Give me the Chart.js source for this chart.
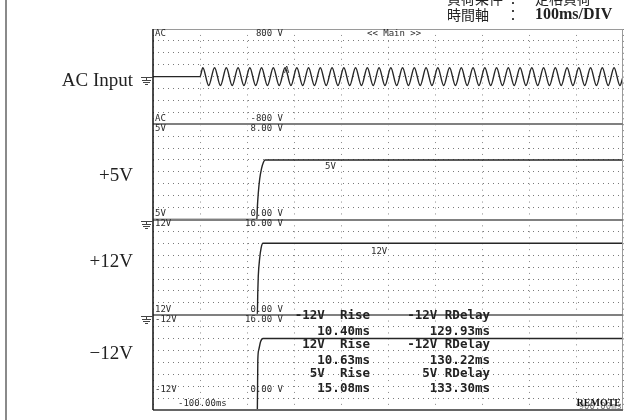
<!DOCTYPE html>
<html>
<head>
<meta charset="utf-8">
<script src="https://cdn.jsdelivr.net/npm/chart.js@4.4.1/dist/chart.umd.min.js"></script>
<style>
  body { margin: 0; background: #ffffff; }
  canvas { display: block; }
</style>
</head>
<body>
<canvas id="myChart" width="627" height="420"></canvas>
<script>
// AC input: read peak / trough positions (ms) and volts
var tempoAC = [-100, 0, 6, 18.5, 31, 43.5, 56, 68.5, 81, 93.5, 106, 118.5, 131, 143.5, 156, 168.5,
  181, 193.5, 206, 218.5, 231, 243.5, 256, 268.5, 281, 293.5, 306, 318.5, 331, 343.5, 356, 368.5,
  381, 393.5, 406, 418.5, 431, 443.5, 456, 468.5, 481, 493.5, 506, 518.5, 531, 543.5, 556, 568.5,
  581, 593.5, 606, 618.5, 631, 643.5, 656, 668.5, 681, 693.5, 706, 718.5, 731, 743.5, 756, 768.5,
  781, 793.5, 806, 818.5, 831, 843.5, 856, 868.5, 881, 893.5, 900];
var tensaoAC = [0, 0, 150, -150, 150, -150, 150, -150, 150, -150, 150, -150, 150, -150, 150, -150,
  150, -150, 150, -150, 150, -150, 150, -150, 150, -150, 150, -150, 150, -150, 150, -150,
  150, -150, 150, -150, 150, -150, 150, -150, 150, -150, 150, -150, 150, -150, 150, -150,
  150, -150, 150, -150, 150, -150, 150, -150, 150, -150, 150, -150, 150, -150, 150, -150,
  150, -150, 150, -150, 150, -150, 150, -150, 150, -150, 0];

var tempo5V = [-100, 121, 122, 124, 127, 131, 135, 138, 900];
var tensao5V = [0, 0, 1.0, 2.2, 3.4, 4.3, 4.8, 5.0, 5.0];

var tempo12V = [-100, 122, 123, 124, 127, 130, 134, 900];
var tensao12V = [0, 0, 4.0, 6.5, 9.5, 11.2, 12.0, 12.0];

var tempoN12V = [-100, 122, 123, 125, 129, 134, 900];
var tensaoN12V = [0, 0, 8.4, 10.1, 11.5, 12.0, 12.0];

var nomesCanal = ["AC", "5V", "12V", "-12V"];
var rotulosEsquerda = ["AC Input", "+5V", "+12V", "\u221212V"];
var posRotulos = [81, 176, 262, 354];
var escalaTopo = ["800 V", "8.00 V", "16.00 V", "16.00 V"];
var escalaBase = ["-800 V", "0.00 V", "0.00 V", "0.00 V"];

var medidasEsq = ["-12V  Rise", "10.40ms", "12V  Rise", "10.63ms", "5V  Rise", "15.08ms"];
var medidasDir = ["-12V RDelay", "129.93ms", "-12V RDelay", "130.22ms", "5V RDelay", "133.30ms"];
var linhasMedidas = [316, 331.5, 345, 360.5, 373.5, 388.5];

var tempoInicio = "-100.00ms";
var tempoFim = "900.00ms";

function pontos(tempos, valores) {
  var lista = [];
  for (var i = 0; i < tempos.length; i++) {
    lista.push({ x: tempos[i], y: valores[i] });
  }
  return lista;
}

function eixoY(minimo, maximo, passo) {
  return {
    type: "linear",
    min: minimo,
    max: maximo,
    stack: "osc",
    stackWeight: 1,
    ticks: { display: false, stepSize: passo },
    grid: { color: "#7a7a7a", drawTicks: false },
    border: { display: false, dash: [1, 4] },
    afterFit: function (escala) { escala.width = 0; }
  };
}

function terra(c, x, y) {
  c.strokeStyle = "#444";
  c.lineWidth = 1;
  c.beginPath();
  c.moveTo(141, y + 0.5); c.lineTo(153, y + 0.5);
  c.moveTo(x + 0.5, y); c.lineTo(x + 0.5, y + 3);
  c.moveTo(x - 4, y + 3.5); c.lineTo(x + 5, y + 3.5);
  c.moveTo(x - 3, y + 5.5); c.lineTo(x + 4, y + 5.5);
  c.moveTo(x - 1, y + 7.5); c.lineTo(x + 2, y + 7.5);
  c.stroke();
}

var desenhos = {
  id: "desenhos",
  afterDatasetsDraw: function (chart) {
    var c = chart.ctx;
    var a = chart.chartArea;
    var paineis = [chart.scales.yAC, chart.scales.y5, chart.scales.y12, chart.scales.yN12];
    c.save();
    // moldura
    c.lineWidth = 1;
    c.strokeStyle = "#9a9a9a";
    c.beginPath();
    c.moveTo(a.left, a.top + 0.5); c.lineTo(a.right, a.top + 0.5);
    c.moveTo(a.right - 0.5, a.top); c.lineTo(a.right - 0.5, a.bottom);
    c.stroke();
    c.lineWidth = 2;
    c.strokeStyle = "#666";
    c.beginPath();
    c.moveTo(a.left, a.bottom); c.lineTo(a.right, a.bottom);
    c.stroke();
    c.strokeStyle = "#808080";
    c.beginPath();
    for (var i = 1; i < paineis.length; i++) {
      var yy = Math.round(paineis[i].top);
      c.moveTo(a.left, yy); c.lineTo(a.right, yy);
    }
    c.stroke();
    c.lineWidth = 1.5;
    c.strokeStyle = "#111";
    c.beginPath();
    c.moveTo(a.left, a.top); c.lineTo(a.left, a.bottom);
    c.stroke();
    // barra cinza a esquerda
    c.fillStyle = "#8a8a8a";
    c.fillRect(5, 0, 2, 420);
    c.restore();
  },
  afterDraw: function (chart) {
    var c = chart.ctx;
    var a = chart.chartArea;
    var paineis = [chart.scales.yAC, chart.scales.y5, chart.scales.y12, chart.scales.yN12];
    c.save();
    c.fillStyle = "#2b2b2b";
    c.textBaseline = "middle";

    c.font = "9px 'DejaVu Sans Mono'";
    for (var i = 0; i < paineis.length; i++) {
      var p = paineis[i];
      var baseY = i == 3 ? p.bottom - 20 : p.bottom - 5.5;
      c.textAlign = "left";
      c.fillText(nomesCanal[i], a.left + 2, p.top + 4.5);
      c.fillText(nomesCanal[i], a.left + 2, baseY);
      c.textAlign = "right";
      c.fillText(escalaTopo[i], 283, p.top + 4.5);
      c.fillText(escalaBase[i], 283, baseY);
    }
    c.textAlign = "left";
    c.fillText("<< Main >>", 367, paineis[0].top + 4.5);
    c.fillText("A", 284, 71);
    c.fillText("5V", 325, 167);
    c.fillText("12V", 371, 252);
    c.fillText(tempoInicio, 178, a.bottom - 6);
    c.fillStyle = "#777";
    c.textAlign = "right";
    c.fillText(tempoFim, a.right - 1, a.bottom - 3);

    c.fillStyle = "#111";
    c.font = "bold 10px 'Liberation Serif'";
    c.fillText("REMOTE", a.right - 2, a.bottom - 7);

    // medidas
    c.fillStyle = "#222";
    c.font = "bold 12.5px 'DejaVu Sans Mono'";
    for (var j = 0; j < linhasMedidas.length; j++) {
      c.textAlign = "right";
      c.fillText(medidasEsq[j], 370, linhasMedidas[j]);
      c.fillText(medidasDir[j], 490, linhasMedidas[j]);
    }

    // rotulos da esquerda
    c.font = "19px 'Liberation Serif'";
    c.textAlign = "right";
    for (var k = 0; k < rotulosEsquerda.length; k++) {
      c.fillText(rotulosEsquerda[k], 133, posRotulos[k]);
    }
    terra(c, 146, Math.round(paineis[0].getPixelForValue(0)));
    terra(c, 146, Math.round(paineis[1].getPixelForValue(0)) + 1);
    terra(c, 146, Math.round(paineis[2].getPixelForValue(0)) + 1);

    // cabecalho
    c.textAlign = "left";
    c.font = "14px 'Noto Sans CJK JP'";
    c.fillText("負荷条件", 447, -1.5);
    c.fillText("：", 506, -1.5);
    c.fillText("定格負荷", 535, -1.5);
    c.fillText("時間軸", 447, 14.5);
    c.fillText("：", 506, 14.5);
    c.font = "bold 16px 'Liberation Serif'";
    c.fillText("100ms/DIV", 535, 15);
    c.restore();
  }
};

var linha = {
  borderColor: "#262626",
  borderWidth: 1.4,
  pointRadius: 0,
  fill: false,
  cubicInterpolationMode: "monotone"
};

var data = {
  datasets: [
    Object.assign({ label: "AC", data: pontos(tempoAC, tensaoAC), yAxisID: "yAC" }, linha),
    Object.assign({ label: "5V", data: pontos(tempo5V, tensao5V), yAxisID: "y5" }, linha),
    Object.assign({ label: "12V", data: pontos(tempo12V, tensao12V), yAxisID: "y12" }, linha),
    Object.assign({ label: "-12V", data: pontos(tempoN12V, tensaoN12V), yAxisID: "yN12" }, linha)
  ]
};

// stacked axes are placed bottom first, so -12V comes first
var config = {
  type: "line",
  data: data,
  options: {
    responsive: false,
    animation: false,
    devicePixelRatio: 1,
    layout: { padding: { left: 153, top: 29, right: 4, bottom: 10 } },
    plugins: { legend: { display: false }, tooltip: { enabled: false } },
    scales: {
      x: {
        type: "linear",
        min: -100,
        max: 900,
        ticks: { display: false, stepSize: 100 },
        grid: { color: "#8a8a8a", drawTicks: false },
        border: { display: false, dash: [1, 4.95] }
      },
      yN12: eixoY(0, 16, 2),
      y12: eixoY(0, 16, 2),
      y5: eixoY(0, 8, 1),
      yAC: eixoY(-800, 800, 200)
    }
  },
  plugins: [desenhos]
};

var myChart = new Chart(document.getElementById("myChart"), config);
</script>
</body>
</html>
